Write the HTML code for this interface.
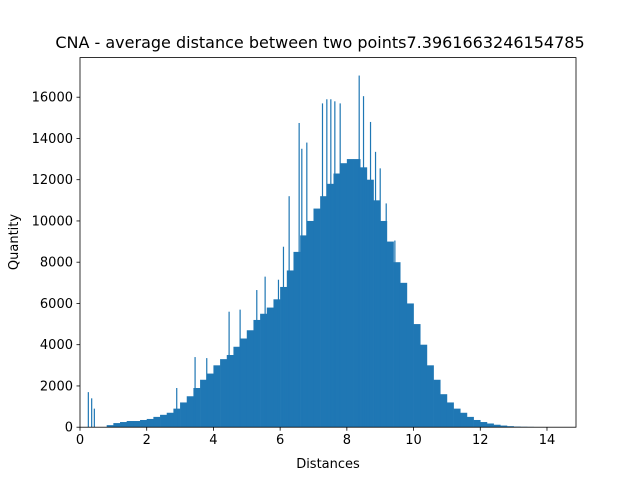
<!DOCTYPE html>
<html><head><meta charset="utf-8"><style>
body{margin:0;background:#fff}
svg text{font-family:"DejaVu Sans","Liberation Sans",sans-serif;fill:#000}
</style></head><body>
<svg width="640" height="480" viewBox="0 0 640 480" xmlns="http://www.w3.org/2000/svg">
<rect width="640" height="480" fill="#fff"/>
<g id="bars"></g>
<g id="axes"></g>
<text x="320" y="48" font-size="16" text-anchor="middle">CNA - average distance between two points7.3961663246154785</text>
<text x="328" y="468" font-size="13" text-anchor="middle">Distances</text>
<text transform="translate(18,242) rotate(-90)" font-size="13" text-anchor="middle">Quantity</text>
</svg>
<script>
const binStart = 0, binWidth = 0.2;
const baseCounts = [0,0,0,0,100,200,250,300,300,350,400,500,600,700,900,1200,1500,1900,2300,2600,3000,3300,3500,3900,4300,4700,5200,5500,5800,6200,6800,7600,8500,9300,10000,10600,11200,11800,12300,12800,13000,13000,12600,12000,11000,10000,9000,8000,7000,6000,5000,4000,3000,2300,1600,1200,900,700,500,350,250,180,120,80,50,30,20,15,10,5,3,2,0,0];
const spikeX = [0.25,0.35,0.43,2.9,3.45,3.8,4.47,4.8,5.3,5.55,5.95,6.1,6.27,6.57,6.65,6.8,7.27,7.4,7.52,7.64,7.8,8.37,8.5,8.71,8.86,9.0,9.18,9.44,9.59,9.98];
const spikeY = [1700,1400,900,1900,3400,3350,5600,5700,6650,7300,7150,8750,11200,14750,13500,13800,15700,15900,15900,15800,15700,17050,16050,14800,13350,12550,10850,9050,7750,5450];
const xTicks = [0,2,4,6,8,10,12,14];
const yTicks = [0,2000,4000,6000,8000,10000,12000,14000,16000];
const L=80,R=576,T=57.6,B=427.2, XMAX=14.87, YMAX=17920;
const sx=v=>L+v/XMAX*(R-L), sy=v=>B-v/YMAX*(B-T);
const NS="http://www.w3.org/2000/svg";
const bars=document.getElementById('bars'), axes=document.getElementById('axes');
function mk(tag,attrs,parent){const e=document.createElementNS(NS,tag);for(const k in attrs)e.setAttribute(k,attrs[k]);parent.appendChild(e);return e;}
baseCounts.forEach((c,i)=>{ if(c<=0)return;
  const x0=sx(binStart+i*binWidth), x1=sx(binStart+(i+1)*binWidth);
  const r=mk('rect',{x:x0,y:sy(c),width:x1-x0+0.3,height:B-sy(c),fill:'#1f77b4'},bars);
  
  
});
spikeX.forEach((v,i)=>{
  const r=mk('rect',{x:sx(v)-0.6,y:sy(spikeY[i]),width:1.2,height:B-sy(spikeY[i]),fill:'#1f77b4'},bars);
  
  
});
mk('rect',{x:L,y:T,width:R-L,height:B-T,fill:'none',stroke:'#000','stroke-width':0.8},axes);
xTicks.forEach(v=>{const x=sx(v);
  mk('line',{x1:x,x2:x,y1:B,y2:B+3.5,stroke:'#000','stroke-width':0.8},axes);
  const t=mk('text',{x:x,y:B+17,'font-size':13,'text-anchor':'middle'},axes);t.textContent=v;
  
  
});
yTicks.forEach(v=>{const y=sy(v);
  mk('line',{x1:L-3.5,x2:L,y1:y,y2:y,stroke:'#000','stroke-width':0.8},axes);
  const t=mk('text',{x:L-7,y:y+4.5,'font-size':13,'text-anchor':'end'},axes);t.textContent=v;
  
  
});
</script>
</body></html>
